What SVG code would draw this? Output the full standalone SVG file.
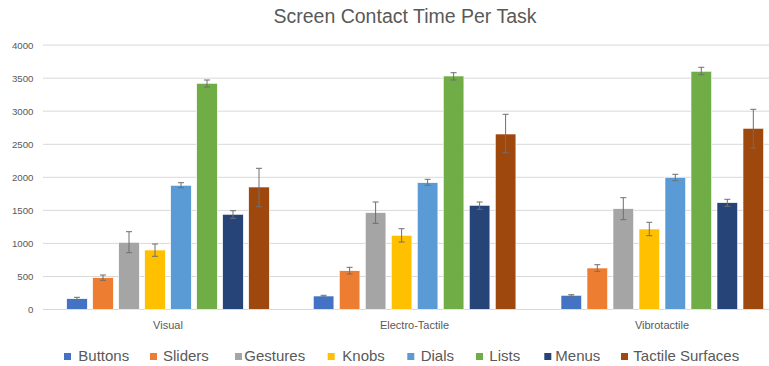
<svg xmlns="http://www.w3.org/2000/svg" width="769" height="366" viewBox="0 0 769 366">
<style>
text{font-family:"Liberation Sans",Arial,sans-serif;fill:#595959}
.title{font-size:19.5px}
.ytick{font-size:9.7px;text-anchor:end}
.cat{font-size:11px;text-anchor:middle}
.leg{font-size:15px}
.grid line{stroke:#d9d9d9;stroke-width:1}
.err{stroke:#6f6f6f;stroke-width:1;fill:none}
.b{fill:#4472C4}.s{fill:#ED7D31}.g{fill:#A5A5A5}.k{fill:#FFC000}.d{fill:#5B9BD5}.l{fill:#70AD47}.m{fill:#264478}.t{fill:#9E480E}
rect.bar{stroke:#ffffff;stroke-width:0.6}
</style>
<rect width="769" height="366" fill="#ffffff"/>
<text class="title" x="405" y="23" text-anchor="middle">Screen Contact Time Per Task</text>
<g id="grid" class="grid">
<line x1="43" y1="45.1" x2="769" y2="45.1"/>
<line x1="43" y1="78.2" x2="769" y2="78.2"/>
<line x1="43" y1="111.2" x2="769" y2="111.2"/>
<line x1="43" y1="144.3" x2="769" y2="144.3"/>
<line x1="43" y1="177.3" x2="769" y2="177.3"/>
<line x1="43" y1="210.4" x2="769" y2="210.4"/>
<line x1="43" y1="243.4" x2="769" y2="243.4"/>
<line x1="43" y1="276.5" x2="769" y2="276.5"/>
<line x1="43" y1="309.5" x2="769" y2="309.5"/>
</g>
<g id="yaxis">
<text class="ytick" x="33.5" y="48.6">4000</text>
<text class="ytick" x="33.5" y="81.7">3500</text>
<text class="ytick" x="33.5" y="114.7">3000</text>
<text class="ytick" x="33.5" y="147.8">2500</text>
<text class="ytick" x="33.5" y="180.8">2000</text>
<text class="ytick" x="33.5" y="213.9">1500</text>
<text class="ytick" x="33.5" y="246.9">1000</text>
<text class="ytick" x="33.5" y="280">500</text>
<text class="ytick" x="33.5" y="313">0</text>
</g>
<g id="group-visual">
<rect class="bar b" x="66.7" y="298.7" width="20.6" height="10.7"/>
<rect class="bar s" x="92.7" y="277.7" width="20.6" height="31.7"/>
<rect class="bar g" x="118.7" y="242.3" width="20.6" height="67.1"/>
<rect class="bar k" x="144.7" y="250" width="20.6" height="59.4"/>
<rect class="bar d" x="170.7" y="185.3" width="20.6" height="124.1"/>
<rect class="bar l" x="196.7" y="83.3" width="20.6" height="226.1"/>
<rect class="bar m" x="222.7" y="214.3" width="20.6" height="95.1"/>
<rect class="bar t" x="248.7" y="187" width="20.6" height="122.4"/>
<path class="err" d="M77 297.3V299.7M74 297.3H80M74 299.7H80 M103 275V280.3M100 275H106M100 280.3H106 M129 231.7V252.7M126 231.7H132M126 252.7H132 M155 244V256.3M152 244H158M152 256.3H158 M181 182.7V187.7M178 182.7H184M178 187.7H184 M207 80V87M204 80H210M204 87H210 M233 210.7V218.3M230 210.7H236M230 218.3H236 M259 168.3V206.7M256 168.3H262M256 206.7H262"/>
<text class="cat" x="168" y="329">Visual</text>
</g>
<g id="group-electro-tactile">
<rect class="bar b" x="313.3" y="296" width="20.6" height="13.4"/>
<rect class="bar s" x="339.3" y="270.7" width="20.6" height="38.7"/>
<rect class="bar g" x="365.3" y="212.7" width="20.6" height="96.7"/>
<rect class="bar k" x="391.3" y="235.3" width="20.6" height="74.1"/>
<rect class="bar d" x="417.3" y="182.7" width="20.6" height="126.7"/>
<rect class="bar l" x="443.3" y="76" width="20.6" height="233.4"/>
<rect class="bar m" x="469.3" y="205.3" width="20.6" height="104.1"/>
<rect class="bar t" x="495.3" y="134" width="20.6" height="175.4"/>
<path class="err" d="M323.6 295.3V297.3M320.6 295.3H326.6M320.6 297.3H326.6 M349.6 267.3V274M346.6 267.3H352.6M346.6 274H352.6 M375.6 202V223.3M372.6 202H378.6M372.6 223.3H378.6 M401.6 228.7V242M398.6 228.7H404.6M398.6 242H404.6 M427.6 179.3V185.3M424.6 179.3H430.6M424.6 185.3H430.6 M453.6 72.7V80M450.6 72.7H456.6M450.6 80H456.6 M479.6 202V209.3M476.6 202H482.6M476.6 209.3H482.6 M505.6 114.3V152.7M502.6 114.3H508.6M502.6 152.7H508.6"/>
<text class="cat" x="414.5" y="329">Electro-Tactile</text>
</g>
<g id="group-vibrotactile">
<rect class="bar b" x="561" y="295.3" width="20.6" height="14.1"/>
<rect class="bar s" x="587" y="268" width="20.6" height="41.4"/>
<rect class="bar g" x="613" y="208.7" width="20.6" height="100.7"/>
<rect class="bar k" x="639" y="229" width="20.6" height="80.4"/>
<rect class="bar d" x="665" y="177.3" width="20.6" height="132.1"/>
<rect class="bar l" x="691" y="71.3" width="20.6" height="238.1"/>
<rect class="bar m" x="717" y="202.7" width="20.6" height="106.7"/>
<rect class="bar t" x="743" y="128.3" width="20.6" height="181.1"/>
<path class="err" d="M571.3 294.7V296.3M568.3 294.7H574.3M568.3 296.3H574.3 M597.3 264.7V271.3M594.3 264.7H600.3M594.3 271.3H600.3 M623.3 197.7V219.7M620.3 197.7H626.3M620.3 219.7H626.3 M649.3 222.3V235.7M646.3 222.3H652.3M646.3 235.7H652.3 M675.3 174.3V180.7M672.3 174.3H678.3M672.3 180.7H678.3 M701.3 67.3V74.7M698.3 67.3H704.3M698.3 74.7H704.3 M727.3 199.3V206.3M724.3 199.3H730.3M724.3 206.3H730.3 M753.3 109.3V148M750.3 109.3H756.3M750.3 148H756.3"/>
<text class="cat" x="662" y="329">Vibrotactile</text>
</g>
<g id="legend">
<rect class="b" x="64" y="353" width="7" height="7"/><text class="leg" x="78.3" y="361">Buttons</text>
<rect class="s" x="150" y="353" width="7" height="7"/><text class="leg" x="163" y="361">Sliders</text>
<rect class="g" x="235" y="353" width="7" height="7"/><text class="leg" x="244.3" y="361">Gestures</text>
<rect class="k" x="327.7" y="353" width="7" height="7"/><text class="leg" x="342.3" y="361">Knobs</text>
<rect class="d" x="407.3" y="353" width="7" height="7"/><text class="leg" x="420.7" y="361">Dials</text>
<rect class="l" x="476" y="353" width="7" height="7"/><text class="leg" x="489.3" y="361">Lists</text>
<rect class="m" x="544.3" y="353" width="7" height="7"/><text class="leg" x="555.3" y="361">Menus</text>
<rect class="t" x="621" y="353" width="7" height="7"/><text class="leg" x="633.3" y="361">Tactile Surfaces</text>
</g>
</svg>
